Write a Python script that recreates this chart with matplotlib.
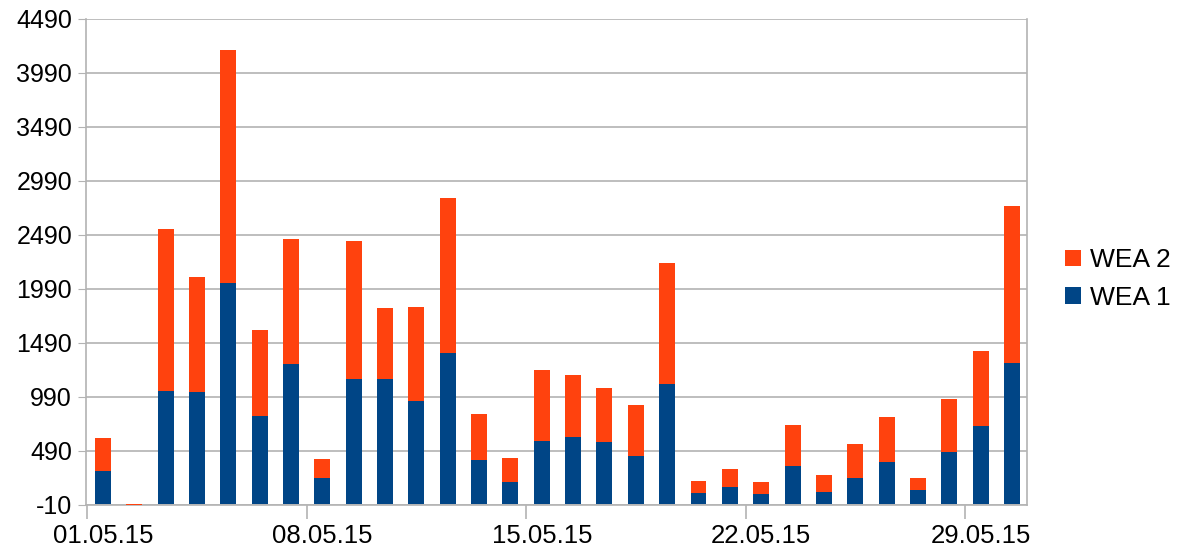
import numpy as np
import matplotlib.pyplot as plt
from matplotlib.patches import Patch
from matplotlib.ticker import FixedLocator

plt.rcParams['font.family'] = ['Liberation Sans', 'DejaVu Sans']
plt.rcParams['axes.unicode_minus'] = False

# Datos
days = [f"{d:02d}.05.15" for d in range(1, 31)]
wea1 = [303, -8, 1050, 1034, 2042, 818, 1291, 244, 1161, 1161,
        949, 1402, 404, 199, 580, 616, 571, 440, 1115, 98,
        153, 88, 349, 111, 238, 385, 127, 479, 717, 1304]
totals = [606, -4, 2547, 2097, 4204, 1614, 2456, 414, 2436, 1810,
          1826, 2828, 828, 421, 1236, 1190, 1070, 913, 2234, 209,
          319, 199, 727, 264, 551, 809, 244, 968, 1412, 2762]
wea2 = [t - b for t, b in zip(totals, wea1)]
y_ticks = list(range(-10, 4491, 500))

BLUE = '#004586'
ORANGE = '#ff420e'
GRID = '#b3b3b3'

fig = plt.figure(figsize=(11.85, 5.53), dpi=100)
ax = fig.add_axes([86 / 1185, 48 / 553, (1027 - 86) / 1185, (505 - 19) / 553])

x = np.arange(len(days))
ax.bar(x, wea1, width=0.51, color=BLUE, zorder=3)
ax.bar(x, wea2, width=0.51, bottom=wea1, color=ORANGE, zorder=3)

ax.set_xlim(-0.54, 29.48)
ax.set_ylim(-10, 4490)

# eje Y
ax.set_yticks(y_ticks)
ax.yaxis.grid(True, color=GRID, linewidth=1.2, zorder=0)
ax.tick_params(axis='y', length=6, color=GRID, labelsize=18, pad=4)

# eje X: etiquetas cada 7 días, marcas entre categorías
label_pos = list(range(0, 30, 7))
ax.set_xticks(label_pos)
ax.set_xticklabels([days[i] for i in label_pos])
ax.tick_params(axis='x', length=0, labelsize=18.5, pad=14)
ax.xaxis.set_minor_locator(FixedLocator([p - 0.5 for p in label_pos]))
ax.tick_params(axis='x', which='minor', length=10, color=GRID, width=1.2)

for side in ['left', 'right', 'bottom']:
    ax.spines[side].set_color(GRID)
    ax.spines[side].set_linewidth(1.2)
ax.spines['top'].set_visible(False)

handles = [Patch(facecolor=ORANGE, label='WEA 2'), Patch(facecolor=BLUE, label='WEA 1')]
fig.legend(handles=handles, loc='center left', bbox_to_anchor=(1065 / 1185, 1 - 279 / 553),
           frameon=False, fontsize=19, handlelength=0.6, handleheight=0.6,
           handletextpad=0.35, labelspacing=0.5, borderpad=0, borderaxespad=0)

fig.savefig('out.png', dpi=100)
